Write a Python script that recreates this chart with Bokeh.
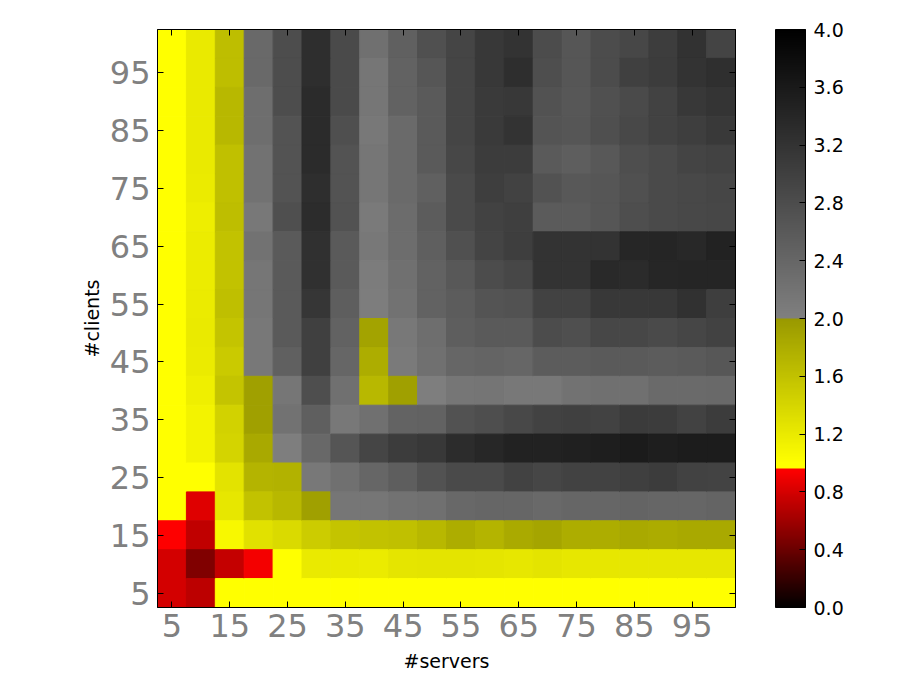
from bokeh.plotting import figure
from bokeh.models import LinearColorMapper, ColorBar, FixedTicker, LinearAxis, Range1d, ColumnDataSource, PrintfTickFormatter
from bokeh.embed import file_html
from bokeh.resources import INLINE

servers = [5, 10, 15, 20, 25, 30, 35, 40, 45, 50, 55, 60, 65, 70, 75, 80, 85, 90, 95, 100]
clients = [100, 95, 90, 85, 80, 75, 70, 65, 60, 55, 50, 45, 40, 35, 30, 25, 20, 15, 10, 5]
tick_values = [5, 15, 25, 35, 45, 55, 65, 75, 85, 95]
bar_ticks = [0.0, 0.4, 0.8, 1.2, 1.6, 2.0, 2.4, 2.8, 3.2, 3.6, 4.0]

# one list per #servers value, ordered as clients (100 down to 5)
s5 = [1.0, 1.0, 1.0, 1.0, 1.0, 1.0, 1.0, 1.0, 1.0, 1.0, 1.0, 1.0, 1.0, 1.0, 1.0, 1.0, 1.0, 0.955, 0.79, 0.79]
s10 = [1.21, 1.21, 1.21, 1.21, 1.21, 1.19, 1.17, 1.18, 1.18, 1.19, 1.21, 1.19, 1.15, 1.11, 1.11, 1.0, 0.84, 0.72, 0.48, 0.71]
s15 = [1.64, 1.64, 1.69, 1.69, 1.62, 1.62, 1.64, 1.6, 1.6, 1.63, 1.58, 1.52, 1.58, 1.44, 1.42, 1.28, 1.23, 1.07, 0.74, 1.0]
s20 = [2.36, 2.36, 2.28, 2.28, 2.22, 2.22, 2.12, 2.22, 2.16, 2.16, 2.12, 2.12, 1.93, 1.93, 1.85, 1.74, 1.6, 1.29, 0.92, 1.0]
s25 = [2.8, 2.8, 2.8, 2.7, 2.7, 2.7, 2.77, 2.59, 2.59, 2.59, 2.59, 2.5, 2.16, 2.22, 2.03, 1.75, 1.7, 1.36, 1.0, 1.0]
s30 = [3.28, 3.28, 3.33, 3.33, 3.33, 3.28, 3.31, 3.25, 3.25, 3.16, 3.0, 3.0, 2.78, 2.52, 2.38, 2.12, 1.93, 1.5, 1.21, 1.0]
s35 = [2.84, 2.84, 2.84, 2.77, 2.7, 2.7, 2.72, 2.59, 2.59, 2.53, 2.47, 2.41, 2.25, 2.12, 2.67, 2.25, 2.16, 1.58, 1.21, 1.0]
s40 = [2.25, 2.16, 2.16, 2.12, 2.16, 2.16, 2.09, 2.12, 2.06, 2.05, 1.9, 1.81, 1.69, 2.25, 2.92, 2.41, 2.16, 1.6, 1.2, 1.0]
s45 = [2.5, 2.47, 2.47, 2.34, 2.34, 2.34, 2.31, 2.3, 2.25, 2.22, 2.12, 2.09, 1.93, 2.45, 3.06, 2.53, 2.22, 1.62, 1.25, 1.0]
s50 = [2.75, 2.66, 2.59, 2.59, 2.59, 2.5, 2.56, 2.52, 2.47, 2.47, 2.28, 2.25, 2.03, 2.47, 3.12, 2.72, 2.25, 1.7, 1.27, 1.0]
s55 = [2.92, 2.92, 2.92, 2.92, 2.89, 2.84, 2.84, 2.75, 2.62, 2.56, 2.53, 2.41, 2.16, 2.72, 3.31, 2.84, 2.38, 1.8, 1.27, 1.0]
s60 = [3.12, 3.12, 3.09, 3.09, 3.06, 3.03, 2.97, 2.94, 2.81, 2.69, 2.59, 2.44, 2.17, 2.78, 3.39, 2.84, 2.41, 1.73, 1.25, 1.0]
s65 = [3.2, 3.28, 3.12, 3.2, 3.06, 2.97, 3.02, 3.03, 2.89, 2.72, 2.59, 2.41, 2.12, 2.88, 3.47, 2.97, 2.41, 1.83, 1.23, 1.0]
s70 = [2.81, 2.78, 2.72, 2.69, 2.59, 2.72, 2.58, 3.2, 3.2, 2.97, 2.81, 2.56, 2.12, 2.97, 3.47, 2.91, 2.36, 1.88, 1.27, 1.0]
s75 = [2.66, 2.66, 2.64, 2.66, 2.53, 2.62, 2.58, 3.2, 3.2, 2.97, 2.77, 2.56, 2.22, 3.0, 3.5, 2.97, 2.41, 1.81, 1.23, 1.0]
s80 = [2.81, 2.81, 2.75, 2.77, 2.62, 2.66, 2.66, 3.2, 3.36, 3.12, 2.89, 2.59, 2.25, 2.97, 3.53, 2.97, 2.41, 1.81, 1.24, 1.0]
s85 = [2.89, 3.0, 2.84, 2.88, 2.78, 2.75, 2.78, 3.41, 3.33, 3.12, 2.89, 2.59, 2.25, 3.08, 3.58, 3.02, 2.44, 1.85, 1.24, 1.0]
s90 = [3.05, 3.06, 2.97, 2.97, 2.84, 2.84, 2.84, 3.42, 3.41, 3.12, 2.84, 2.56, 2.34, 3.06, 3.53, 3.06, 2.41, 1.82, 1.23, 1.0]
s95 = [3.22, 3.2, 3.12, 3.03, 2.94, 2.88, 2.88, 3.38, 3.42, 3.23, 2.91, 2.59, 2.34, 2.97, 3.56, 2.97, 2.41, 1.84, 1.24, 1.0]
s100 = [2.94, 3.27, 3.19, 3.11, 2.97, 2.91, 2.89, 3.47, 3.42, 3.03, 2.97, 2.64, 2.36, 3.06, 3.56, 2.95, 2.44, 1.85, 1.24, 1.0]
columns = [s5, s10, s15, s20, s25, s30, s35, s40, s45, s50, s55, s60, s65, s70, s75, s80, s85, s90, s95, s100]


# piecewise colormap: black-red below 0.96, yellow-olive up to 2, gray-black on [2,4]
def colour(v):
    if v < 0.96:
        return "#%02x0000" % round(255 * v / 0.96)
    if v < 2:
        g = min(255, round(255 - 102 * (v - 1)))
        return "#%02x%02x00" % (g, g)
    g = round(128 * (4 - v) / 2)
    return "#%02x%02x%02x" % (g, g, g)


n = 512
palette = [colour((i + 0.5) * 4 / n) for i in range(n)]
mapper = LinearColorMapper(palette=palette, low=0, high=4)

xs, ys, vs = [], [], []
for sv, col in zip(servers, columns):
    for cl, val in zip(clients, col):
        xs.append(sv)
        ys.append(cl)
        vs.append(val)
src = ColumnDataSource(dict(x=xs, y=ys, v=vs))

p = figure(width=904, height=674, output_backend="svg", toolbar_location=None,
           x_range=Range1d(2.5, 102.5), y_range=Range1d(2.5, 102.5),
           min_border_left=157, min_border_top=29, min_border_bottom=67, min_border_right=169,
           x_axis_label="#servers", y_axis_label="#clients")
p.grid.visible = False
p.outline_line_color = "#000000"
p.outline_line_width = 1
p.rect("x", "y", width=5, height=5, source=src,
       fill_color={"field": "v", "transform": mapper},
       line_color={"field": "v", "transform": mapper}, line_width=1)


def style(ax, labelled):
    ax.ticker = FixedTicker(ticks=tick_values)
    ax.major_tick_in = 6
    ax.major_tick_out = 0
    ax.minor_tick_in = 0
    ax.minor_tick_out = 0
    ax.major_tick_line_color = "#000000"
    ax.major_tick_line_width = 1
    ax.axis_line_color = "#000000"
    ax.axis_line_width = 1
    if labelled:
        ax.major_label_text_font = "DejaVu Sans"
        ax.major_label_text_font_size = "32px"
        ax.major_label_text_color = "#808080"
        ax.axis_label_text_font = "DejaVu Sans"
        ax.axis_label_text_font_size = "19px"
        ax.axis_label_text_font_style = "normal"
        ax.axis_label_text_color = "#000000"
    else:
        ax.major_label_text_font_size = "0px"
        ax.major_label_text_color = None
        ax.major_label_standoff = 0


style(p.xaxis[0], True)
style(p.yaxis[0], True)
p.xaxis[0].major_label_standoff = 6
p.yaxis[0].major_label_standoff = 7
p.xaxis[0].axis_label_standoff = 10
p.yaxis[0].axis_label_standoff = 4

top = LinearAxis()
style(top, False)
p.add_layout(top, "above")

right = LinearAxis()
style(right, False)
p.add_layout(right, "right")

bar = ColorBar(color_mapper=mapper, width=30, height=578, padding=0, margin=0,
               location=(618, 0), background_fill_color=None,
               ticker=FixedTicker(ticks=bar_ticks),
               formatter=PrintfTickFormatter(format="%.1f"),
               major_label_text_font="DejaVu Sans",
               major_label_text_font_size="19px", major_label_text_color="#000000",
               major_tick_line_color="#000000", major_tick_in=6, major_tick_out=0,
               bar_line_color="#000000", bar_line_width=1,
               label_standoff=8)
p.add_layout(bar, "center")

open("out.html", "w").write(file_html(p, INLINE))
